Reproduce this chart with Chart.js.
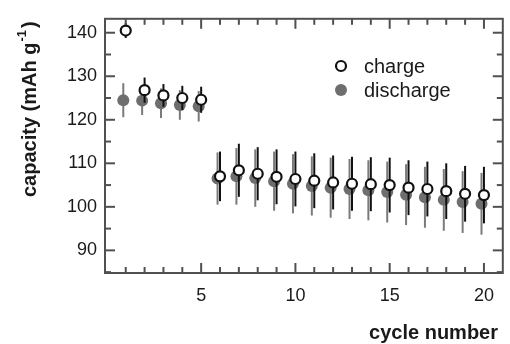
<!DOCTYPE html>
<html>
<head>
<meta charset="utf-8">
<script src="https://cdn.jsdelivr.net/npm/chart.js@4.4.0/dist/chart.umd.min.js"></script>
<style>
html, body { margin: 0; padding: 0; background: #fff; }
#wrap { width: 510px; height: 344px; }
</style>
</head>
<body>
<div id="wrap"><canvas id="chart"></canvas></div>
<script>
// cycle number
var cycles = [1, 2, 3, 4, 5, 6, 7, 8, 9, 10, 11, 12, 13, 14, 15, 16, 17, 18, 19, 20];
// capacity (mAh/g)
var chargeCap = [140.5, 126.8, 125.6, 125.0, 124.6, 107.0, 108.4, 107.6, 106.9, 106.4,
                 106.0, 105.6, 105.3, 105.2, 105.0, 104.4, 104.1, 103.6, 103.0, 102.7];
var chargeErr = [1.7, 2.9, 2.6, 2.8, 3.0, 5.7, 6.1, 6.1, 6.3, 6.3,
                 6.3, 6.2, 6.2, 6.2, 6.3, 6.3, 6.3, 6.4, 6.4, 6.5];
var dischargeCap = [124.5, 124.4, 123.8, 123.4, 123.1, 106.5, 107.0, 106.6, 105.9, 105.3,
                    104.8, 104.4, 104.1, 103.8, 103.4, 102.8, 102.2, 101.6, 101.1, 100.7];
var dischargeErr = [3.9, 3.3, 3.4, 3.4, 3.5, 6.0, 6.5, 6.6, 6.8, 6.8,
                    6.8, 6.9, 6.9, 6.9, 7.0, 7.0, 7.0, 7.1, 7.1, 7.1];
// discharge markers sit a little left of the charge ones in the figure
var dischargeShift = -0.13;

// tick labels and tick marks
var xTicks = [5, 10, 15, 20];
var xMinor = cycles;
var yTicks = [90, 100, 110, 120, 130, 140];
var yMinor = [85, 95, 105, 115, 125, 135];

var FONT = '"Liberation Sans", Arial, sans-serif';

// error bars, drawn just before each dataset so the layering is right
var errorBars = {
  id: 'errorBars',
  beforeDatasetDraw: function(chart, args) {
    var ds = chart.data.datasets[args.index];
    var ys = chart.scales.y;
    var ctx = chart.ctx;
    ctx.save();
    ctx.strokeStyle = ds.errColor;
    ctx.lineWidth = 2;
    ds.data.forEach(function(p, i) {
      var px = args.meta.data[i].x;
      ctx.beginPath();
      ctx.moveTo(px, ys.getPixelForValue(p.y - ds.errors[i]));
      ctx.lineTo(px, ys.getPixelForValue(p.y + ds.errors[i]));
      ctx.stroke();
    });
    ctx.restore();
  }
};

// box, inward ticks, titles, legend
var decorations = {
  id: 'decorations',
  afterDraw: function(chart) {
    var ctx = chart.ctx;
    var a = chart.chartArea;
    var xs = chart.scales.x, ys = chart.scales.y;
    ctx.save();
    ctx.strokeStyle = '#505050';
    ctx.lineWidth = 2;
    ctx.strokeRect(a.left, a.top, a.right - a.left, a.bottom - a.top);

    function tick(x1, y1, x2, y2) {
      ctx.beginPath(); ctx.moveTo(x1, y1); ctx.lineTo(x2, y2); ctx.stroke();
    }
    xMinor.forEach(function(v) {
      var px = xs.getPixelForValue(v);
      var len = xTicks.indexOf(v) >= 0 ? 10 : 6;
      tick(px, a.bottom, px, a.bottom - len);
      tick(px, a.top, px, a.top + len);
    });
    yTicks.concat(yMinor).forEach(function(v) {
      var py = ys.getPixelForValue(v);
      var len = yTicks.indexOf(v) >= 0 ? 10 : 6;
      tick(a.left, py, a.left + len, py);
      tick(a.right, py, a.right - len, py);
    });

    // axis titles
    ctx.fillStyle = '#1a1a1a';
    ctx.font = 'bold 20px ' + FONT;
    ctx.textAlign = 'right';
    ctx.textBaseline = 'middle';
    ctx.fillText('cycle number', 498, 333);

    ctx.save();
    ctx.translate(36, 197);
    ctx.rotate(-Math.PI / 2);
    ctx.textAlign = 'left';
    ctx.textBaseline = 'alphabetic';
    var main = 'capacity (mAh g';
    ctx.fillText(main, 0, 0);
    var w = ctx.measureText(main).width;
    ctx.font = 'bold 13px ' + FONT;
    ctx.fillText('-1', w + 1, -10);
    var sw = ctx.measureText('-1').width;
    ctx.font = 'bold 20px ' + FONT;
    ctx.fillText(')', w + sw + 3, 0);
    ctx.restore();

    // legend
    ctx.font = '20px ' + FONT;
    ctx.textAlign = 'left';
    ctx.textBaseline = 'middle';
    chart.data.datasets.forEach(function(ds, i) {
      var ly = 66 + i * 24;
      ctx.beginPath();
      ctx.arc(341, ly, ds.pointRadius, 0, Math.PI * 2);
      ctx.fillStyle = ds.pointBackgroundColor;
      ctx.fill();
      if (ds.pointBorderWidth > 0) {
        ctx.lineWidth = ds.pointBorderWidth;
        ctx.strokeStyle = ds.pointBorderColor;
        ctx.stroke();
      }
      ctx.fillStyle = '#1a1a1a';
      ctx.fillText(ds.label, 364, ly + 1);
    });
    ctx.restore();
  }
};

var canvas = document.getElementById('chart');
var ctx = canvas.getContext('2d');
var myChart = new Chart(ctx, {
  type: 'scatter',
  data: {
    datasets: [
      {
        label: 'charge',
        data: cycles.map(function(c, i) { return { x: c, y: chargeCap[i] }; }),
        errors: chargeErr,
        errColor: '#111111',
        pointRadius: 5,
        pointBackgroundColor: '#ffffff',
        pointBorderColor: '#111111',
        pointBorderWidth: 2.2,
        pointHoverRadius: 5
      },
      {
        label: 'discharge',
        data: cycles.map(function(c, i) { return { x: c + dischargeShift, y: dischargeCap[i] }; }),
        errors: dischargeErr,
        errColor: '#7a7a7a',
        pointRadius: 6,
        pointBackgroundColor: '#6e6e6e',
        pointBorderColor: '#6e6e6e',
        pointBorderWidth: 0,
        pointHoverRadius: 6
      }
    ]
  },
  options: {
    responsive: true,
    maintainAspectRatio: false,
    animation: false,
    events: [],
    layout: { padding: { top: 10, right: 2, left: 0, bottom: 0 } },
    plugins: { legend: { display: false }, tooltip: { enabled: false } },
    scales: {
      x: {
        type: 'linear',
        min: -0.1,
        max: 21,
        afterFit: function(s) { s.height = 71; },
        afterBuildTicks: function(s) { s.ticks = xTicks.map(function(v) { return { value: v }; }); },
        grid: { display: false, drawTicks: false },
        border: { display: false },
        ticks: { padding: 12, color: '#1a1a1a', font: { family: FONT, size: 18 } }
      },
      y: {
        type: 'linear',
        min: 84.8,
        max: 143.2,
        afterFit: function(s) { s.width = 105; },
        afterBuildTicks: function(s) { s.ticks = yTicks.map(function(v) { return { value: v }; }); },
        grid: { display: false, drawTicks: false },
        border: { display: false },
        ticks: { padding: 8, color: '#1a1a1a', font: { family: FONT, size: 18 } }
      }
    }
  },
  plugins: [errorBars, decorations]
});
</script>
</body>
</html>
